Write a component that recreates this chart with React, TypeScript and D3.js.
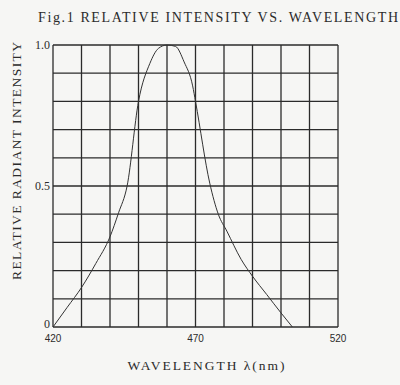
import React from "react";
import * as d3 from "d3";

// spectrum
const wavelengths = [420, 425, 430, 435, 440, 443, 446, 450, 454, 457, 460, 463, 466, 469, 470, 475, 478, 481, 486, 490, 495, 500, 504];
const intensity = [0, 0.07, 0.14, 0.225, 0.32, 0.405, 0.5, 0.8, 0.935, 0.988, 1.0, 0.995, 0.94, 0.855, 0.8, 0.51, 0.4, 0.34, 0.24, 0.18, 0.115, 0.05, 0.0];

const xTickLabels = [420, 470, 520];
const yTickLabels = [0, 0.5, 1.0];

const W = 400;
const H = 385;
const serif = "'Liberation Serif', 'DejaVu Serif', serif";
const sans = "'Liberation Sans', Arial, sans-serif";
const ink = "#2b2b2b";

const App = () => {
  const x = d3.scaleLinear().domain([420, 520]).range([53, 338]);
  const y = d3.scaleLinear().domain([0, 1]).range([327, 45]);

  const line = d3.line<number>()
    .x((d, i) => x(wavelengths[i]))
    .y(d => y(d))
    .curve(d3.curveMonotoneX);

  const vTicks = d3.range(420, 521, 10);
  const hTicks = d3.range(0, 11).map(i => i / 10);

  return (
    <svg width={W} height={H} style={{ position: "absolute", left: 0, top: 0, background: "#f6f6f4" }}>
      <text x={38} y={22} fontFamily={serif} fontSize={14} fill={ink} textLength={360} lengthAdjust="spacing">
        Fig.1  RELATIVE  INTENSITY  VS.  WAVELENGTH
      </text>

      <g stroke={ink} strokeWidth={1.3}>
        {vTicks.map(t => (
          <line key={"v" + t} x1={x(t)} x2={x(t)} y1={y(0)} y2={y(1)} />
        ))}
        {hTicks.map(t => (
          <line key={"h" + t} x1={x(420)} x2={x(520)} y1={y(t)} y2={y(t)} />
        ))}
      </g>

      <path d={line(intensity) || ""} fill="none" stroke="#333" strokeWidth={1} />

      {yTickLabels.map(t => (
        <text key={"yl" + t} x={x(420) - 3} y={t === 0 ? y(t) + 1 : y(t) + 4} textAnchor="end" fontFamily={serif} fontSize={12} fill={ink}>
          {t === 0 ? "0" : t.toFixed(1)}
        </text>
      ))}
      {xTickLabels.map(t => (
        <text key={"xl" + t} x={x(t)} y={342} textAnchor="middle" fontFamily={sans} fontSize={10} fill={ink}>
          {t}
        </text>
      ))}

      <text transform="translate(21,161) rotate(-90)" textAnchor="middle" fontFamily={serif} fontSize={13.5} fill={ink} textLength={238} lengthAdjust="spacing">
        RELATIVE  RADIANT  INTENSITY
      </text>
      <text x={206} y={370} textAnchor="middle" fontFamily={serif} fontSize={13.5} fill={ink} textLength={157} lengthAdjust="spacing">
        WAVELENGTH λ(nm)
      </text>
    </svg>
  );
};

export default App;
